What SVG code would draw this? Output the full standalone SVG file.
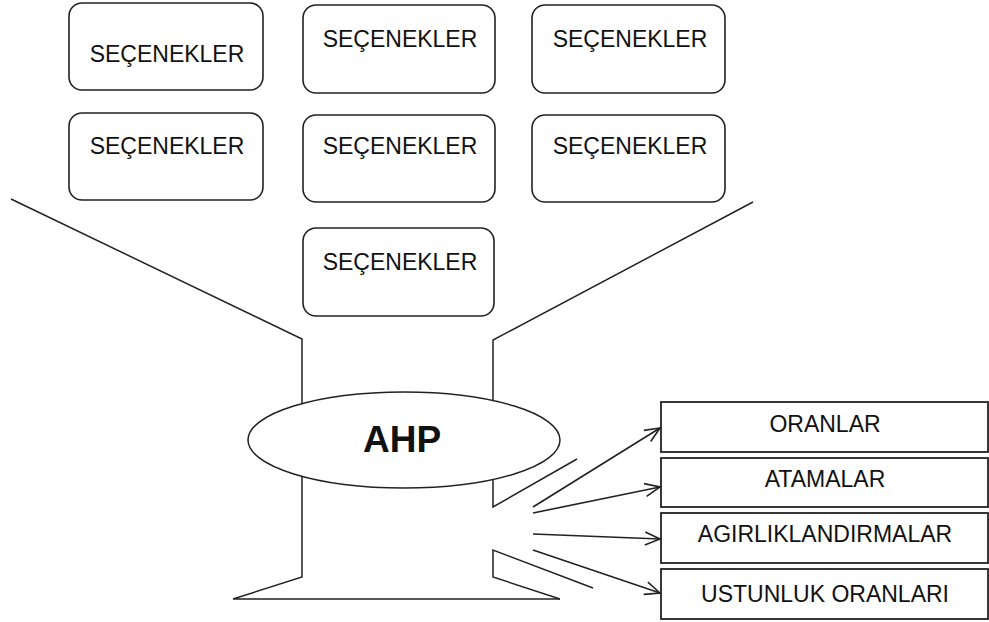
<svg xmlns="http://www.w3.org/2000/svg" width="989" height="622" viewBox="0 0 989 622">
  <style>
    .shape { fill: none; stroke: #222; stroke-width: 1.5; stroke-linejoin: miter; }
    .opt rect { fill: #fff; stroke: #222; stroke-width: 1.6; }
    .out rect { fill: #fff; stroke: #222; stroke-width: 1.8; }
    .lbl { font-family: "Liberation Sans", Arial, sans-serif; font-size: 23px; fill: #111; text-anchor: middle; }
    .big { font-family: "Liberation Sans", Arial, sans-serif; font-size: 37px; font-weight: bold; fill: #111; text-anchor: middle; }
    .conn line { stroke: #222; stroke-width: 1.6; marker-end: url(#arr); }
  </style>
  <defs>
    <marker id="arr" markerUnits="userSpaceOnUse" markerWidth="18" markerHeight="16" viewBox="0 0 18 16" refX="16" refY="8" orient="auto">
      <path d="M1,1.5 L16,8 L1,14.5" fill="none" stroke="#222" stroke-width="1.6"/>
    </marker>
  </defs>
  <rect width="989" height="622" fill="#fff"/>

  <!-- funnel outline -->
  <g id="funnel">
    <polyline class="shape" points="11,199 302,339 302,577 233,599 560,599"/>
    <polyline class="shape" points="753,202 493,340 493,507 577,459"/>
    <polyline class="shape" points="593,588 493,550 493,577 560,599"/>
  </g>

  <!-- option boxes -->
  <g id="opt1" class="opt"><rect x="69" y="3" width="194" height="87" rx="13"/><text class="lbl" x="167" y="62">SEÇENEKLER</text></g>
  <g id="opt2" class="opt"><rect x="303" y="5" width="192" height="88" rx="13"/><text class="lbl" x="400" y="47">SEÇENEKLER</text></g>
  <g id="opt3" class="opt"><rect x="532" y="5" width="193" height="88" rx="13"/><text class="lbl" x="630" y="47">SEÇENEKLER</text></g>
  <g id="opt4" class="opt"><rect x="69" y="113" width="194" height="87" rx="13"/><text class="lbl" x="167" y="154">SEÇENEKLER</text></g>
  <g id="opt5" class="opt"><rect x="303" y="115" width="192" height="87" rx="13"/><text class="lbl" x="400" y="154">SEÇENEKLER</text></g>
  <g id="opt6" class="opt"><rect x="532" y="115" width="193" height="87" rx="13"/><text class="lbl" x="630" y="154">SEÇENEKLER</text></g>
  <g id="opt7" class="opt"><rect x="303" y="228" width="191" height="88" rx="13"/><text class="lbl" x="400" y="270">SEÇENEKLER</text></g>

  <!-- AHP -->
  <g id="ahp">
    <ellipse cx="404" cy="440" rx="156" ry="48" fill="#fff" stroke="#222" stroke-width="1.5"/>
    <text class="big" x="402" y="452">AHP</text>
  </g>

  <!-- outputs -->
  <g id="out1" class="out"><rect x="661" y="402" width="327" height="50"/><text class="lbl" x="825" y="432">ORANLAR</text></g>
  <g id="out2" class="out"><rect x="661" y="458" width="327" height="49"/><text class="lbl" x="825" y="487">ATAMALAR</text></g>
  <g id="out3" class="out"><rect x="661" y="513" width="327" height="50"/><text class="lbl" x="825" y="542">AGIRLIKLANDIRMALAR</text></g>
  <g id="out4" class="out"><rect x="661" y="569" width="327" height="50"/><text class="lbl" x="825" y="602">USTUNLUK ORANLARI</text></g>

  <!-- connectors -->
  <g id="connectors" class="conn">
    <line x1="533" y1="507" x2="660" y2="428"/>
    <line x1="533" y1="513" x2="660" y2="487"/>
    <line x1="533" y1="534" x2="660" y2="539"/>
    <line x1="533" y1="550" x2="660" y2="593"/>
  </g>
</svg>
